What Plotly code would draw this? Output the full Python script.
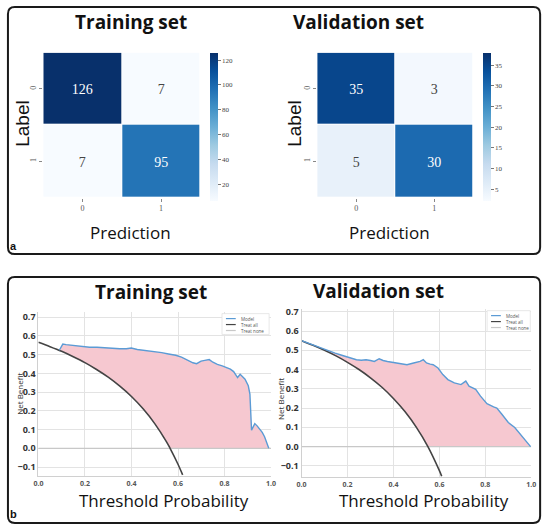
import plotly.graph_objects as go

W, H = 552, 529

# ---------------- data ----------------
cm_labels = ['0', '1']
train_cm = [[126, 7], [7, 95]]
valid_cm = [[35, 3], [5, 30]]
train_cbar_ticks = [20, 40, 60, 80, 100, 120]
valid_cbar_ticks = [5, 10, 15, 20, 25, 30, 35]
valid_crange = [2.3, 38]

train_all_x = [0.0, 0.05, 0.1, 0.15, 0.2, 0.25, 0.3, 0.35, 0.4, 0.45, 0.5, 0.55, 0.566, 0.6, 0.62]
train_all_y = [0.566, 0.543, 0.518, 0.489, 0.4575, 0.421, 0.380, 0.332, 0.277, 0.211, 0.132, 0.036, 0.0, -0.085, -0.142]
train_model_x = [0.09, 0.105, 0.119, 0.15, 0.182, 0.22, 0.252, 0.29, 0.322, 0.35, 0.378, 0.399, 0.425, 0.448,
                 0.475, 0.503, 0.53, 0.559, 0.59, 0.615, 0.64, 0.664, 0.68, 0.699, 0.715, 0.734, 0.75, 0.769,
                 0.79, 0.811, 0.825, 0.839, 0.856, 0.867, 0.878, 0.888, 0.902, 0.909, 0.916, 0.93, 0.94, 0.951,
                 0.962, 0.972, 0.99]
train_model_y = [0.524, 0.557, 0.554, 0.549, 0.545, 0.54, 0.54, 0.536, 0.536, 0.532, 0.532, 0.536, 0.528, 0.525,
                 0.52, 0.518, 0.511, 0.504, 0.497, 0.487, 0.47, 0.457, 0.452, 0.466, 0.47, 0.474, 0.46, 0.448,
                 0.44, 0.431, 0.423, 0.41, 0.378, 0.395, 0.38, 0.369, 0.334, 0.29, 0.097, 0.132, 0.12, 0.105,
                 0.085, 0.062, 0.0]

valid_all_x = [0.0, 0.05, 0.1, 0.15, 0.2, 0.25, 0.3, 0.35, 0.4, 0.45, 0.5, 0.55, 0.6, 0.61]
valid_all_y = [0.55, 0.526, 0.50, 0.471, 0.4375, 0.40, 0.357, 0.308, 0.25, 0.182, 0.10, 0.0, -0.125, -0.154]
valid_model_x = [0.0, 0.05, 0.09, 0.12, 0.146, 0.175, 0.203, 0.239, 0.26, 0.281, 0.3, 0.317, 0.338, 0.355,
                 0.374, 0.395, 0.416, 0.44, 0.459, 0.488, 0.516, 0.53, 0.544, 0.56, 0.573, 0.594, 0.615, 0.637,
                 0.665, 0.694, 0.715, 0.729, 0.758, 0.779, 0.807, 0.836, 0.85, 0.872, 0.9, 0.928, 0.957, 0.986,
                 0.997]
valid_model_y = [0.55, 0.527, 0.511, 0.496, 0.485, 0.474, 0.463, 0.451, 0.448, 0.451, 0.447, 0.442, 0.456,
                 0.447, 0.442, 0.438, 0.434, 0.43, 0.425, 0.434, 0.442, 0.451, 0.434, 0.428, 0.425, 0.408,
                 0.374, 0.348, 0.331, 0.322, 0.34, 0.314, 0.297, 0.262, 0.223, 0.206, 0.2, 0.168, 0.125,
                 0.099, 0.057, 0.014, 0.0]
none_x = [0.0, 1.0]
none_y = [0.0, 0.0]
legend_names = ['Model', 'Treat all', 'Treat none']

# ---------------- helpers ----------------
def PX(x):
    return x / W


def PY(y):
    return 1 - y / H


BLUES = [[0.0, '#f7fbff'], [0.125, '#deebf7'], [0.25, '#c6dbef'], [0.375, '#9ecae1'], [0.5, '#6baed6'],
         [0.625, '#4292c6'], [0.75, '#2171b5'], [0.875, '#08519c'], [1.0, '#08306b']]
MODEL_C = '#5b9bd5'
ALL_C = '#444444'
NONE_C = '#c8c8c8'
FILL_C = '#f6c8d0'
SANS = 'Open Sans'
SERIF = 'Liberation Serif'

fig = go.Figure()


def heat(z, xa, ya, cbx, ticks, crange):
    fig.add_trace(go.Heatmap(
        z=z, x=cm_labels, y=cm_labels, xaxis=xa, yaxis=ya,
        colorscale=BLUES, zmin=crange[0], zmax=crange[1], xgap=1, ygap=1,
        texttemplate='%{z}', textfont=dict(family=SERIF, size=14),
        hoverinfo='skip',
        colorbar=dict(x=PX(cbx), xanchor='left', xpad=0, ypad=0, y=PY(49), yanchor='top',
                      len=148, lenmode='pixels', thickness=8, thicknessmode='pixels',
                      outlinewidth=0, tickvals=ticks, ticks='outside', ticklen=3,
                      tickcolor='#777', tickfont=dict(family=SERIF, size=7, color='#444'))))


heat(train_cm, 'x', 'y', 209, train_cbar_ticks, [min(min(r) for r in train_cm), max(max(r) for r in train_cm)])
heat(valid_cm, 'x2', 'y2', 487, valid_cbar_ticks, valid_crange)


def dca(mx, my, ax, ay, xa, ya):
    # shaded area between model curve and max(treat all, 0)
    lower = [(x, y) for x, y in zip(ax, ay) if y >= 0 and x > mx[0]]
    px_ = list(mx) + [p[0] for p in reversed(lower)]
    py_ = list(my) + [p[1] for p in reversed(lower)]
    fig.add_trace(go.Scatter(x=px_, y=py_, xaxis=xa, yaxis=ya, mode='lines', fill='toself',
                             fillcolor=FILL_C, line=dict(width=0), hoverinfo='skip', showlegend=False))
    fig.add_trace(go.Scatter(x=none_x, y=none_y, xaxis=xa, yaxis=ya, mode='lines',
                             line=dict(color=NONE_C, width=1.2), showlegend=False))
    fig.add_trace(go.Scatter(x=ax, y=ay, xaxis=xa, yaxis=ya, mode='lines', line_shape='spline',
                             line=dict(color=ALL_C, width=1.6), showlegend=False))
    fig.add_trace(go.Scatter(x=mx, y=my, xaxis=xa, yaxis=ya, mode='lines',
                             line=dict(color=MODEL_C, width=1.4), showlegend=False))


dca(train_model_x, train_model_y, train_all_x, train_all_y, 'x3', 'y3')
dca(valid_model_x, valid_model_y, valid_all_x, valid_all_y, 'x4', 'y4')

# ---------------- axes ----------------
hm_x = dict(type='category', ticks='outside', ticklen=3, tickcolor='#888', showgrid=False, zeroline=False,
            tickfont=dict(family=SERIF, size=8, color='#555'), showline=False)
hm_y = dict(type='category', autorange='reversed', ticks='outside', ticklen=3, tickcolor='#888',
            showgrid=False, zeroline=False, tickangle=-90,
            tickfont=dict(family=SERIF, size=8, color='#555'), showline=False)

dca_x = dict(range=[0, 1.0], tickvals=[0, 0.2, 0.4, 0.6, 0.8, 1.0], tickformat='.1f', showgrid=True,
             gridcolor='#e3e3e3', gridwidth=1, zeroline=False, showline=True, linecolor='#d0d0d0',
             ticks='', tickfont=dict(family=SANS, size=7, color='#555', weight='bold'))
dca_y = dict(dtick=0.1, tick0=0, tickformat='.1f', showgrid=True, gridcolor='#e3e3e3', gridwidth=1,
             zeroline=False, showline=True, linecolor='#d0d0d0', ticks='',
             tickfont=dict(family=SANS, size=9, color='#333', weight='bold'))

fig.update_layout(
    width=W, height=H, margin=dict(l=0, r=0, t=0, b=0),
    paper_bgcolor='white', plot_bgcolor='white', showlegend=False,
    xaxis=dict(domain=[PX(39), PX(199)], anchor='y', **hm_x),
    yaxis=dict(domain=[PY(195), PY(49)], anchor='x', **hm_y),
    xaxis2=dict(domain=[PX(318), PX(477)], anchor='y2', **hm_x),
    yaxis2=dict(domain=[PY(195), PY(49)], anchor='x2', **hm_y),
    xaxis3=dict(domain=[PX(34), PX(271)], anchor='y3', **dca_x),
    yaxis3=dict(domain=[PY(476), PY(310)], anchor='x3', range=[-0.15, 0.73], **dca_y),
    xaxis4=dict(domain=[PX(302), PX(536)], anchor='y4', **dca_x),
    yaxis4=dict(domain=[PY(477), PY(307)], anchor='x4', range=[-0.16, 0.716], **dca_y),
)


# ---------------- boxes ----------------
def rbox(x0, y0, x1, y1, r):
    return (f"M {PX(x0 + r)},{PY(y0)} L {PX(x1 - r)},{PY(y0)} Q {PX(x1)},{PY(y0)} {PX(x1)},{PY(y0 + r)} "
            f"L {PX(x1)},{PY(y1 - r)} Q {PX(x1)},{PY(y1)} {PX(x1 - r)},{PY(y1)} "
            f"L {PX(x0 + r)},{PY(y1)} Q {PX(x0)},{PY(y1)} {PX(x0)},{PY(y1 - r)} "
            f"L {PX(x0)},{PY(y0 + r)} Q {PX(x0)},{PY(y0)} {PX(x0 + r)},{PY(y0)} Z")


shapes = []
for b in [(3, 3, 545, 252), (3, 275, 545, 523)]:
    shapes.append(dict(type='path', path=rbox(*b, 7), xref='paper', yref='paper',
                       line=dict(color='#1a1a1a', width=2)))

annotations = []


def txt(s, x, y, size, bold=False, angle=0, family=SANS, color='#111', xanchor='center'):
    annotations.append(dict(text=s, x=PX(x), y=PY(y), xref='paper', yref='paper', showarrow=False,
                            xanchor=xanchor, yanchor='middle', textangle=angle,
                            font=dict(family=family, size=size, color=color,
                                      weight='bold' if bold else 'normal')))


# panel a texts
txt('Training set', 128, 18, 19, bold=True)
txt('Validation set', 360, 18, 19, bold=True)
txt('Prediction', 128, 230, 17)
txt('Prediction', 392, 230, 17)
txt('Label', 17, 120, 19, angle=-90, family='Liberation Sans')
txt('Label', 294, 120, 19, angle=-90, family='Liberation Sans')
txt('a', 9, 244, 11, bold=True, family='Liberation Sans')
# panel b texts
txt('Training set', 149, 290, 19, bold=True)
txt('Validation set', 380, 289, 19, bold=True)
txt('Threshold Probability', 162, 500, 17)
txt('Threshold Probability', 427, 500, 17)
txt('Net Benefit', 14, 393, 8, angle=-90, color='#333')
txt('Net Benefit', 281, 398, 8, angle=-90, color='#333')
txt('b', 9, 514, 11, bold=True, family='Liberation Sans')


# manual mini legends
def mini_legend(x0, y0, x1, y1):
    shapes.append(dict(type='rect', xref='paper', yref='paper', x0=PX(x0), x1=PX(x1), y0=PY(y1), y1=PY(y0),
                       line=dict(color='#e2e2e2', width=0.8), fillcolor='white'))
    cols = [MODEL_C, ALL_C, NONE_C]
    for i, (name, c) in enumerate(zip(legend_names, cols)):
        yy = y0 + 5 + i * 6
        shapes.append(dict(type='line', xref='paper', yref='paper', x0=PX(x0 + 4), x1=PX(x0 + 14),
                           y0=PY(yy), y1=PY(yy), line=dict(color=c, width=1.2)))
        txt(name, x0 + 17, yy, 4.5, color='#555', xanchor='left')


mini_legend(221, 312, 269, 333)
mini_legend(491, 309, 535, 330)

fig.update_layout(shapes=shapes, annotations=annotations)
fig.write_html('out.html')
